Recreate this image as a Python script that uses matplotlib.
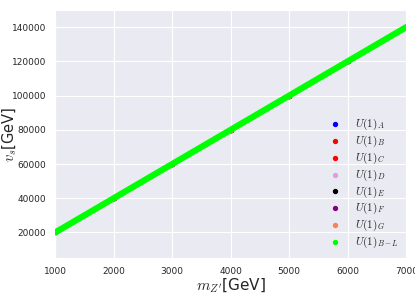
import numpy as np
import matplotlib
matplotlib.use("Agg")
import matplotlib.pyplot as plt
import seaborn as sns

sns.set_style("darkgrid")
plt.rcParams['mathtext.fontset'] = 'cm'

# Z' mass and singlet vev (GeV)
mzp = [1000, 2000, 3000, 4000, 5000, 6000, 7000]
vs = [20000, 40000, 60000, 80000, 100000, 120000, 140000]

models = ['A', 'B', 'C', 'D', 'E', 'F', 'G', 'B-L']
colors = ['blue', 'red', 'red', 'plum', 'black', 'purple', 'coral', 'lime']

fig = plt.figure(figsize=(4.15, 2.94), dpi=100)
ax = fig.add_axes([0.133, 0.122, 0.846, 0.844])

for m, c in zip(models, colors):
    if m == 'B-L':
        ax.plot(mzp, vs, color=c, linewidth=4.5, zorder=3)
        ax.scatter([], [], color=c, s=8, label=r'$U(1)_{B-L}$')
    else:
        ax.scatter(mzp, vs, color=c, s=8, label=r'$U(1)_{%s}$' % m, zorder=2)

ax.set_xlim(1000, 7000)
ax.set_ylim(5000, 150000)
ax.set_xticks([1000, 2000, 3000, 4000, 5000, 6000, 7000])
ax.set_yticks([20000, 40000, 60000, 80000, 100000, 120000, 140000])
ax.tick_params(labelsize=6.5, pad=3)
ax.set_xlabel(r"$m_{Z'}$[GeV]", fontsize=11)
ax.set_ylabel(r"$v_s$[GeV]", fontsize=10.5)
ax.xaxis.set_label_coords(0.5, -0.075)
ax.yaxis.set_label_coords(-0.105, 0.5)

ax.legend(loc='lower right', frameon=False, fontsize=8, handletextpad=0.8,
          labelspacing=0.15, borderaxespad=0.3, markerscale=1.0)

fig.savefig("out.png", dpi=100)
